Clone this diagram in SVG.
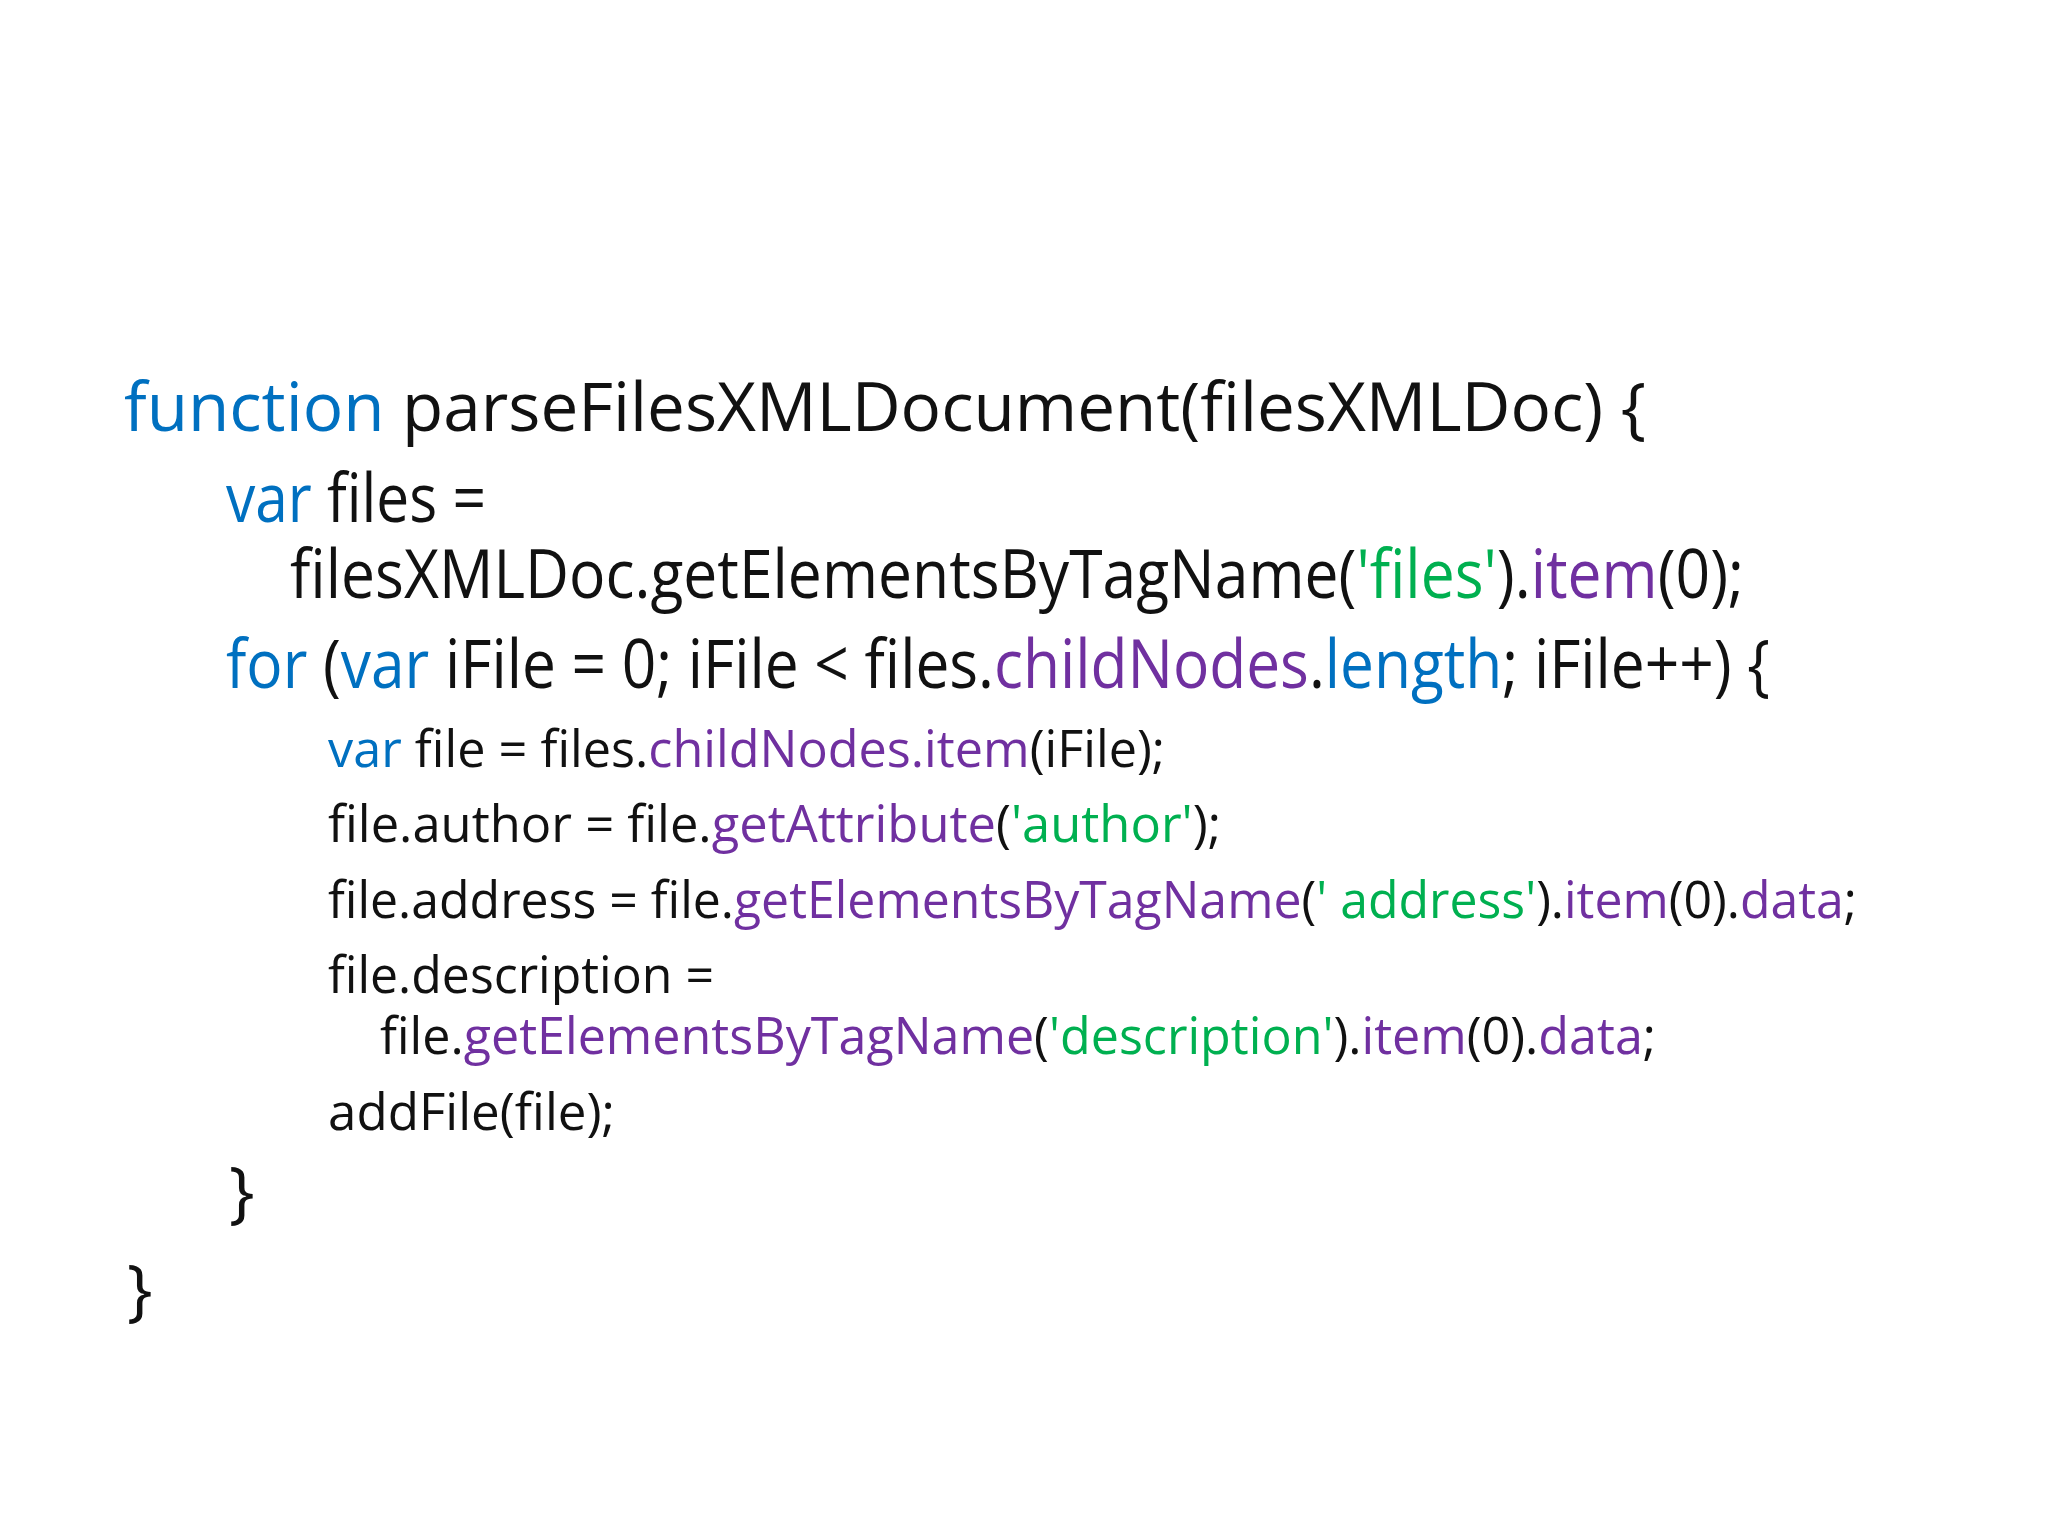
<svg xmlns="http://www.w3.org/2000/svg" width="2048" height="1536" viewBox="0 0 2048 1536">
<style>
text{font-family:"Open Sans","Liberation Sans",sans-serif;fill:#111}
.b{font-size:68px}.s{font-size:52px}
.k{fill:#0070C0}.p{fill:#7030A0}.g{fill:#00B050}
</style>
<rect width="2048" height="1536" fill="#fff"/>
<text class="b" x="124" y="431" textLength="1522" lengthAdjust="spacingAndGlyphs"><tspan class="k">function</tspan> parseFilesXMLDocument(filesXMLDoc) {</text>
<text class="b" x="226" y="522" textLength="260" lengthAdjust="spacingAndGlyphs"><tspan class="k">var</tspan> files =</text>
<text class="b" x="290" y="598" textLength="1454" lengthAdjust="spacingAndGlyphs">filesXMLDoc.getElementsByTagName(<tspan class="g">'files'</tspan>).<tspan class="p">item</tspan>(0);</text>
<text class="b" x="226" y="688" textLength="1544" lengthAdjust="spacingAndGlyphs"><tspan class="k">for</tspan> (<tspan class="k">var</tspan> iFile = 0; iFile &lt; files.<tspan class="p">childNodes</tspan>.<tspan class="k">length</tspan>; iFile++) {</text>
<text class="s" x="328" y="767" textLength="837" lengthAdjust="spacingAndGlyphs"><tspan class="k">var</tspan> file = files.<tspan class="p">childNodes.item</tspan>(iFile);</text>
<text class="s" x="328" y="842" textLength="893" lengthAdjust="spacingAndGlyphs">file.author = file.<tspan class="p">getAttribute</tspan>(<tspan class="g">'author'</tspan>);</text>
<text class="s" x="328" y="918" textLength="1529" lengthAdjust="spacingAndGlyphs">file.address = file.<tspan class="p">getElementsByTagName</tspan>(<tspan class="g">' address'</tspan>).<tspan class="p">item</tspan>(0).<tspan class="p">data</tspan>;</text>
<text class="s" x="328" y="993" textLength="386" lengthAdjust="spacingAndGlyphs">file.description =</text>
<text class="s" x="380" y="1054" textLength="1276" lengthAdjust="spacingAndGlyphs">file.<tspan class="p">getElementsByTagName</tspan>(<tspan class="g">'description'</tspan>).<tspan class="p">item</tspan>(0).<tspan class="p">data</tspan>;</text>
<text class="s" x="328" y="1130" textLength="287" lengthAdjust="spacingAndGlyphs">addFile(file);</text>
<text class="b" x="229" y="1215">}</text>
<text class="b" x="127" y="1313">}</text>
</svg>
